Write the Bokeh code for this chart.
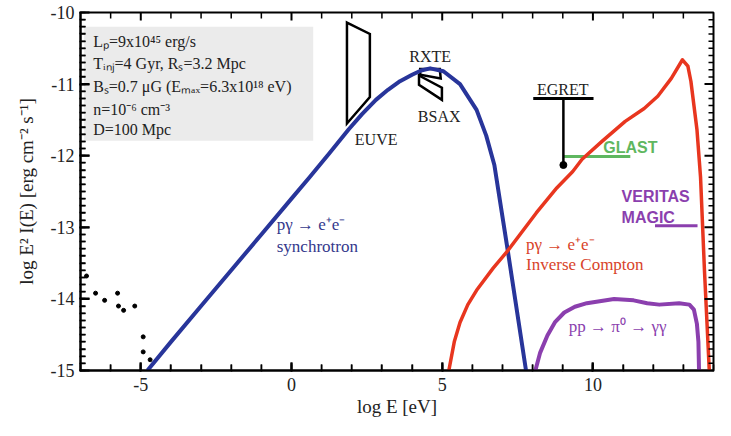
import numpy as np
from bokeh.plotting import figure
from bokeh.models import Range1d, SingleIntervalTicker, CustomJSTickFormatter
from bokeh.core.properties import value
from bokeh.embed import file_html
from bokeh.resources import INLINE

# ---- data ----
sync_x = [-4.78, -4.0, -3.0, -2.0, -1.0, 0.0, 0.6, 1.25, 1.9, 2.34, 2.8, 3.2, 3.6, 4.0, 4.3, 4.6,
          5.04, 5.59, 6.14, 6.46, 6.73, 7.18, 7.78]
sync_y = [-15.0, -14.6, -14.1, -13.6, -13.1, -12.6, -12.3, -11.97, -11.63, -11.42, -11.22, -11.08,
          -10.96, -10.87, -10.81, -10.78, -10.82, -11.0, -11.36, -11.72, -12.13, -13.34, -15.0]

ic_x = [5.22, 5.4, 5.59, 5.85, 6.14, 6.69, 7.15, 8.12, 8.8, 9.33, 9.64, 10.3, 11.07, 11.7, 12.15,
        12.6, 12.97, 13.15, 13.25, 13.45, 13.57, 13.7, 13.86]
ic_y = [-15.0, -14.6, -14.33, -14.08, -13.88, -13.57, -13.34, -12.8, -12.45, -12.22, -12.05, -11.8,
        -11.52, -11.34, -11.17, -10.92, -10.66, -10.75, -10.96, -11.63, -12.3, -13.6, -15.0]

pp_x = [8.09, 8.25, 8.49, 8.75, 9.05, 9.4, 9.8, 10.7, 11.35, 11.8, 12.2, 12.86, 13.2, 13.35, 13.45,
        13.5, 13.52]
pp_y = [-15.0, -14.75, -14.51, -14.32, -14.19, -14.11, -14.06, -14.0, -14.02, -14.06, -14.08, -14.06,
        -14.08, -14.15, -14.35, -14.6, -15.0]

dots_x = [-6.8, -6.5, -6.2, -5.77, -5.74, -5.57, -5.2, -4.92, -4.92, -4.69]
dots_y = [-13.68, -13.92, -14.02, -13.92, -14.1, -14.16, -14.1, -14.53, -14.74, -14.85]

euve_x = [1.84, 2.60, 2.60, 1.84]
euve_y = [-10.14, -10.30, -11.18, -11.55]
rxte_x = [4.27, 4.92, 4.95, 4.27]
rxte_y = [-10.79, -10.79, -10.92, -10.87]
bsax_x = [4.23, 4.99, 4.99, 4.23]
bsax_y = [-10.88, -11.05, -11.22, -11.01]

egret_bar_x = [8.02, 10.02]
egret_bar_y = [-11.20, -11.20]
egret_stem_x = [9.02, 9.02]
egret_stem_y = [-11.20, -12.13]
glast_x = [9.04, 11.24]
glast_y = [-12.01, -12.01]
magic_x = [12.06, 13.47]
magic_y = [-12.98, -12.98]

param_lines = ["Lₚ=9x10⁴⁵ erg/s",
               "Tᵢₙⱼ=4 Gyr, Rₛ=3.2 Mpc",
               "Bₛ=0.7 μG (Eₘₐₓ=6.3x10¹⁸ eV)",
               "n=10⁻⁶ cm⁻³",
               "D=100 Mpc"]
param_y = [-10.40, -10.71, -11.03, -11.36, -11.63]

# axis ticks
X0, X1, Y0, Y1 = -7.0, 14.0, -15.0, -10.0
x_major = [-5.0, 0.0, 5.0, 10.0]
x_minor = [float(v) for v in range(-6, 14) if v % 5 != 0]
y_major = [-14.0, -13.0, -12.0, -11.0]
y_minor = [float(round(v, 1)) for v in np.arange(-14.9, -10.0, 0.1) if abs(v - round(v)) > 1e-6]

BLUE = "#28359a"
RED = "#e8361f"
PURPLE = "#8b3fae"
GREEN = "#5fb760"
SERIF = "Liberation Serif"
SANS = "Liberation Sans"

W, H = 715, 420
BL, BT, BR, BB = 80, 12, 2, 50
p = figure(width=W, height=H, x_range=Range1d(X0, X1), y_range=Range1d(Y0, Y1),
           output_backend="svg", toolbar_location=None,
           min_border_left=BL, min_border_top=BT, min_border_right=BR, min_border_bottom=BB)
p.xgrid.visible = False
p.ygrid.visible = False
p.outline_line_color = "black"
p.outline_line_width = 2

bottom = p.below[0]
left = p.left[0]
bottom.ticker = SingleIntervalTicker(interval=5, num_minor_ticks=5)
left.ticker = SingleIntervalTicker(interval=1, num_minor_ticks=10)
plain = CustomJSTickFormatter(code="return tick.toString();")
bottom.formatter = plain
left.formatter = plain

for ax in (bottom, left):
    ax.axis_line_width = 2
    ax.major_tick_out = 1
    ax.minor_tick_out = 1
    ax.major_tick_line_width = 2
    ax.minor_tick_line_width = 1.5
    ax.major_tick_line_color = "black"
    ax.minor_tick_line_color = "black"
    ax.major_label_text_font = SERIF
    ax.major_label_text_font_size = "18px"
    ax.major_label_text_color = "#222222"
    ax.axis_label_text_font = SERIF
    ax.axis_label_text_font_style = "normal"
    ax.axis_label_text_font_size = "19px"
    ax.axis_label_text_color = "#222222"
bottom.major_tick_in = 8
bottom.minor_tick_in = 6
left.major_tick_in = 9
left.minor_tick_in = 5

bottom.axis_label = "log E [eV]"
bottom.major_label_standoff = 6
bottom.axis_label_standoff = 2
left.axis_label = "log E² I(E) [erg cm⁻² s⁻¹]"
left.major_label_standoff = 5
left.axis_label_standoff = 11

# parameter box
p.quad(left=[-6.88], right=[0.72], top=[-10.20], bottom=[-11.79],
       fill_color="#ebebeb", line_color=None)

# instrument boxes
p.patches([euve_x, rxte_x, bsax_x], [euve_y, rxte_y, bsax_y], fill_alpha=0,
          line_color="black", line_width=2.5, line_join="miter")

# EGRET / GLAST / MAGIC
p.line(glast_x, glast_y, line_color=GREEN, line_width=3)
p.line(egret_bar_x, egret_bar_y, line_color="black", line_width=3)
p.line(egret_stem_x, egret_stem_y, line_color="black", line_width=2.5)
p.scatter([egret_stem_x[1]], [egret_stem_y[1]], size=7, color="black")
p.line(magic_x, magic_y, line_color=PURPLE, line_width=3)

# curves
p.line(sync_x, sync_y, line_color=BLUE, line_width=4, line_join="round")
p.line(ic_x, ic_y, line_color=RED, line_width=3.5, line_join="round")
p.line(pp_x, pp_y, line_color=PURPLE, line_width=4, line_join="round")

# low energy data points
p.scatter(dots_x, dots_y, size=4, color="black")

# inward ticks on the top and right sides (and repeated on bottom/left)
fw = W - BL - BR
fh = H - BT - BB
px_x = (X1 - X0) / fw
px_y = (Y1 - Y0) / fh

def xticks(vals, ln, w):
    n = len(vals)
    p.segment(vals, [Y0] * n, vals, [Y0 + ln] * n, line_color="black", line_width=w)
    p.segment(vals, [Y1] * n, vals, [Y1 - ln] * n, line_color="black", line_width=w)

def yticks(vals, ln, w):
    n = len(vals)
    p.segment([X0] * n, vals, [X0 + ln] * n, vals, line_color="black", line_width=w)
    p.segment([X1] * n, vals, [X1 - ln] * n, vals, line_color="black", line_width=w)

xticks(x_major, 8 * px_y, 2)
xticks(x_minor, 6 * px_y, 1.5)
yticks(y_major, 9 * px_x, 2)
yticks(y_minor, 5 * px_x, 1.5)

# texts as text glyphs
def lab(x, y, text, color="#222222", font=SERIF, size="16px", style="normal", align="left"):
    p.text(x=[x], y=[y], text=[text], text_font=value(font), text_font_size=value(size),
           text_font_style=style, text_baseline="middle", text_align=align, text_color=color)

for t, yy in zip(param_lines, param_y):
    lab(-6.58, yy, t)

lab(2.1, -11.77, "EUVE")
lab(4.6, -10.62, "RXTE", align="center")
lab(4.9, -11.45, "BSAX", align="center")
lab(9.0, -11.08, "EGRET", align="center")
lab(11.24, -11.88, "GLAST", color=GREEN, font=SANS, size="16px", style="bold", align="center")
lab(10.95, -12.57, "VERITAS", color=PURPLE, font=SANS, size="16px", style="bold")
lab(10.95, -12.86, "MAGIC", color=PURPLE, font=SANS, size="16px", style="bold")
lab(-0.49, -12.96, "pγ → e⁺e⁻", color="#34398c", size="17px")
lab(-0.49, -13.27, "synchrotron", color="#34398c", size="17px")
lab(7.78, -13.24, "pγ → e⁺e⁻", color="#d8432a", size="17px")
lab(7.78, -13.52, "Inverse Compton", color="#d8432a", size="17px")
lab(9.2, -14.38, "pp → π⁰ → γγ", color=PURPLE, size="17px")

open("out.html", "w").write(file_html(p, INLINE))
